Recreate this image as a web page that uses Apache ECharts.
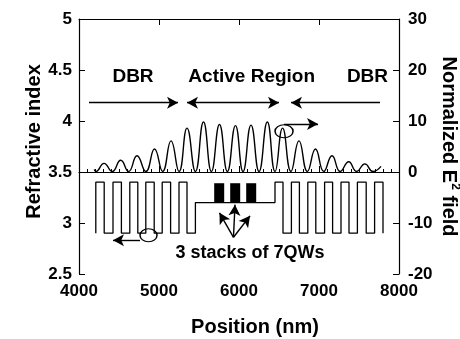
<!DOCTYPE html>
<html>
<head>
<meta charset="utf-8">
<script src="https://cdn.jsdelivr.net/npm/echarts@6/dist/echarts.min.js"></script>
<style>
  html, body { margin: 0; padding: 0; background: #fff; }
  #chart { width: 460px; height: 339px; }
</style>
</head>
<body>
<div id="chart"></div>
<script>
// refractive index profile, drawn as a step line:
// x = edge position (nm), n = index level after that edge
const indexX = [4210, 4210, 4315, 4425, 4530, 4635, 4735, 4835, 4940, 5040, 5145, 5250, 5350, 5455,
  6450, 6550, 6655, 6755, 6860, 6960, 7070, 7170, 7275, 7375, 7480, 7590, 7695, 7800];
const indexN = [2.9, 3.4, 2.9, 3.4, 2.9, 3.4, 2.9, 3.4, 2.9, 3.4, 2.9, 3.4, 2.9, 3.2,
  3.4, 2.9, 3.4, 2.9, 3.4, 2.9, 3.4, 2.9, 3.4, 2.9, 3.4, 2.9, 3.4, 2.9];

// normalized |E|^2 field, peaks and nodes
const fieldX = [4190, 4212, 4313, 4415, 4521, 4620, 4725, 4835, 4944, 5045, 5150, 5250, 5350, 5455,
  5556, 5655, 5756, 5855, 5956, 6050, 6150, 6250, 6354, 6450, 6545, 6650, 6750, 6855, 6956,
  7060, 7163, 7265, 7371, 7470, 7573, 7675, 7775];
const fieldE = [0.5, 0.1, 1.7, 0.1, 2.3, 0.1, 3.2, 0.1, 4.5, 0.1, 6.1, 0.1, 8.6, 0.1,
  9.8, 0.1, 9.3, 0.1, 9.1, 0.1, 9.2, 0.1, 9.8, 0.1, 8.6, 0.1, 6.1, 0.1, 4.5,
  0.1, 3.2, 0.1, 2.0, 0.1, 1.6, 0.1, 1.1];

// quantum well stacks (start, end in nm; index from base to top)
const qwStart = [5690, 5890, 6090];
const qwEnd = [5815, 6015, 6215];
const qwBase = [3.2, 3.2, 3.2];
const qwTop = [3.39, 3.39, 3.39];

const FONT = '"Liberation Sans", Arial, Helvetica, sans-serif';

const chart = echarts.init(document.getElementById('chart'));

const plain = v => String(v);

function ticks(minorSplit) {
  const t = {
    axisLine: { show: true, lineStyle: { color: '#000', width: 1.2 } },
    axisTick: { show: true, inside: true, length: 6, lineStyle: { color: '#000', width: 1 } },
    splitLine: { show: false },
    nameMoveOverlap: false,
  };
  if (minorSplit) {
    t.minorTick = { show: true, splitNumber: minorSplit, length: 3, lineStyle: { color: '#000', width: 1 } };
  }
  return t;
}

function labelStyle(margin) {
  return { color: '#000', fontSize: 17, fontWeight: 'bold', fontFamily: FONT, margin: margin, formatter: plain };
}

const option = {
  animation: false,
  backgroundColor: '#fff',
  grid: { left: 79, right: 61, top: 19, bottom: 65, containLabel: false, outerBoundsMode: 'none' },
  xAxis: [
    Object.assign({
      type: 'value',
      position: 'bottom',
      min: 4000,
      max: 8000,
      interval: 1000,
      axisLabel: labelStyle(9),
      name: 'Position (nm)',
      nameLocation: 'middle',
      nameGap: 43,
      nameTextStyle: { color: '#000', fontSize: 20, fontWeight: 'bold', fontFamily: FONT, padding: [0, 0, 0, 32] },
    }, ticks(10)),
    Object.assign({
      type: 'value',
      position: 'top',
      min: 4000,
      max: 8000,
      interval: 1000,
      axisLabel: { show: false },
    }, ticks(0)),
  ],
  yAxis: [
    Object.assign({
      type: 'value',
      position: 'left',
      min: 2.5,
      max: 5,
      interval: 0.5,
      axisLabel: labelStyle(7),
      name: 'Refractive index',
      nameLocation: 'middle',
      nameGap: 35,
      nameTextStyle: { color: '#000', fontSize: 20, fontWeight: 'bold', fontFamily: FONT, padding: [0, 0, 0, 10] },
    }, ticks(0)),
    Object.assign({
      type: 'value',
      position: 'right',
      min: -20,
      max: 30,
      interval: 10,
      axisLabel: labelStyle(9),
      name: '{a|Normalized E}{s|2}{a| field}',
      nameLocation: 'middle',
      nameRotate: -90,
      nameGap: 38,
      nameTextStyle: {
        color: '#000', fontSize: 20, fontWeight: 'bold', fontFamily: FONT,
        rich: {
          a: { color: '#000', fontSize: 20, fontWeight: 'bold', fontFamily: FONT, lineHeight: 24 },
          s: { color: '#000', fontSize: 12, fontWeight: 'bold', fontFamily: FONT, lineHeight: 24, verticalAlign: 'top' },
        },
      },
    }, ticks(0)),
  ],
  series: [
    {
      name: 'index',
      type: 'line',
      xAxisIndex: 0,
      yAxisIndex: 0,
      step: 'end',
      symbol: 'none',
      silent: true,
      data: indexX.map((x, i) => [x, indexN[i]]),
      lineStyle: { color: '#000', width: 1.3 },
      markLine: {
        silent: true,
        symbol: ['none', 'arrow'],
        symbolSize: [9, 11],
        label: { show: false },
        lineStyle: { color: '#000', width: 1.4, type: 'solid' },
        data: [
          [{ coord: [4125, 4.18], symbol: 'none' }, { coord: [5238, 4.18], symbol: 'arrow' }],
          [{ coord: [5350, 4.18], symbol: 'arrow' }, { coord: [6500, 4.18], symbol: 'arrow' }],
          [{ coord: [7763, 4.18], symbol: 'none' }, { coord: [6650, 4.18], symbol: 'arrow' }],
          [{ coord: [6563, 3.97], symbol: 'none' }, { coord: [6988, 3.97], symbol: 'arrow' }],
          [{ coord: [4763, 2.83], symbol: 'none' }, { coord: [4425, 2.83], symbol: 'arrow' }],
          [{ coord: [5931, 2.86], symbol: 'none' }, { coord: [5756, 3.10], symbol: 'arrow' }],
          [{ coord: [5931, 2.86], symbol: 'none' }, { coord: [5950, 3.18], symbol: 'arrow' }],
          [{ coord: [5931, 2.86], symbol: 'none' }, { coord: [6138, 3.07], symbol: 'arrow' }],
        ],
      },
      markPoint: {
        silent: true,
        data: [
          { coord: [6563, 3.90], symbol: 'circle', symbolSize: [18, 13],
            itemStyle: { color: 'rgba(0,0,0,0)', borderColor: '#000', borderWidth: 1.3 }, label: { show: false } },
          { coord: [4869, 2.88], symbol: 'circle', symbolSize: [17, 13],
            itemStyle: { color: 'rgba(0,0,0,0)', borderColor: '#000', borderWidth: 1.3 }, label: { show: false } },
          { name: 'DBR', coord: [4675, 4.43], symbol: 'rect', symbolSize: 1, itemStyle: { color: 'rgba(0,0,0,0)' } },
          { name: 'Active Region', coord: [6159, 4.43], symbol: 'rect', symbolSize: 1, itemStyle: { color: 'rgba(0,0,0,0)' } },
          { name: 'DBR', coord: [7606, 4.43], symbol: 'rect', symbolSize: 1, itemStyle: { color: 'rgba(0,0,0,0)' } },
          { name: '3 stacks of 7QWs', coord: [6138, 2.71], symbol: 'rect', symbolSize: 1, itemStyle: { color: 'rgba(0,0,0,0)' },
            label: { fontSize: 18 } },
        ],
        label: {
          show: true,
          position: 'inside',
          formatter: '{b}',
          color: '#000',
          fontSize: 19,
          fontWeight: 'bold',
          fontFamily: FONT,
        },
      },
    },
    {
      name: 'qw',
      type: 'custom',
      xAxisIndex: 0,
      yAxisIndex: 0,
      silent: true,
      encode: { x: [0, 1], y: [2, 3] },
      data: qwStart.map((s, i) => [s, qwEnd[i], qwBase[i], qwTop[i]]),
      renderItem: function (params, api) {
        const p0 = api.coord([api.value(0), api.value(3)]);
        const p1 = api.coord([api.value(1), api.value(2)]);
        return {
          type: 'rect',
          shape: { x: p0[0], y: p0[1], width: p1[0] - p0[0], height: p1[1] - p0[1] },
          style: { fill: '#000' },
        };
      },
    },
    {
      name: 'field',
      type: 'line',
      xAxisIndex: 0,
      yAxisIndex: 1,
      smooth: 0.5,
      symbol: 'none',
      silent: true,
      data: fieldX.map((x, i) => [x, fieldE[i]]),
      lineStyle: { color: '#000', width: 1.4 },
    },
  ],
};

chart.setOption(option);
</script>
</body>
</html>
